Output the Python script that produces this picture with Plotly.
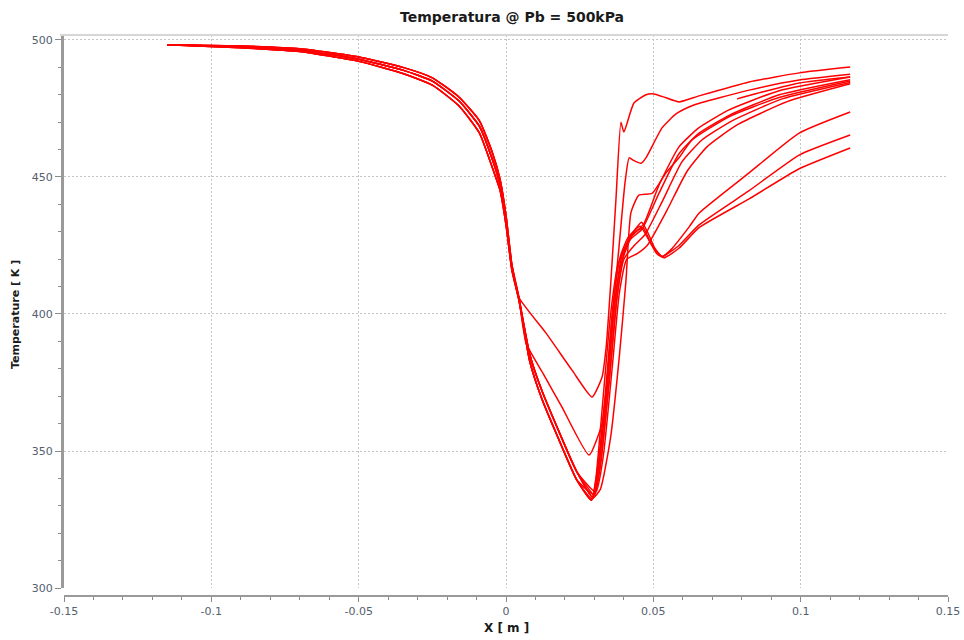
import plotly.graph_objects as go

# ---- shared upstream profile (x in m, T in K) ----
UP_X = [-0.115, -0.09, -0.07, -0.05, -0.035, -0.025, -0.016, -0.009, -0.0045, -0.002, 0.0, 0.002, 0.0044]
UP_T_HI = [498.3, 497.8, 496.8, 493.8, 490.0, 486.2, 479.2, 470.5, 458.5, 449.0, 436.0, 418.0, 406.0]
UP_T_MID = [498.3, 497.5, 496.3, 493.0, 489.0, 485.0, 477.8, 468.5, 456.0, 447.0, 434.0, 417.0, 405.5]
UP_T_LO = [498.3, 497.2, 495.8, 492.2, 487.8, 483.5, 476.0, 466.0, 453.0, 445.0, 432.5, 416.0, 405.0]

# approach to the cold core shared by the main bundle
PRE_X = [0.0080, 0.0120, 0.0180, 0.0240]
PRE_T_A = [385.5, 372.5, 357.0, 342.5]
PRE_T_B = [383.0, 369.5, 354.0, 339.5]

# branch with the shallowest minimum
A_X = [0.0136, 0.0224, 0.0292, 0.0326, 0.0340, 0.0356, 0.0373, 0.0390, 0.0400, 0.0434, 0.0475,
       0.0502, 0.0543, 0.0587, 0.0655, 0.0825, 0.0995, 0.1168]
A_T = [393.0, 379.5, 369.7, 377.0, 388.0, 412.0, 441.6, 470.0, 466.4, 477.0, 480.0,
       480.3, 478.9, 477.4, 479.6, 484.7, 488.0, 490.1]

# branch with the intermediate minimum
B_X = [0.0068, 0.0129, 0.0190, 0.0282, 0.0326, 0.0340, 0.0360, 0.0384, 0.0404, 0.0418, 0.0434,
       0.0458, 0.0475, 0.0530, 0.0577, 0.0631, 0.0825, 0.0995, 0.1168]
B_T = [389.4, 377.7, 366.0, 348.5, 360.0, 372.0, 398.0, 425.0, 448.0, 457.0, 456.0,
       455.0, 457.0, 468.0, 473.0, 476.0, 481.7, 485.4, 487.5]

# main bundle, recovering along the upper family
S_X = [0.0292, 0.0320, 0.0355, 0.0385, 0.0407, 0.0424, 0.0451, 0.0496, 0.0543, 0.0587, 0.0631, 0.0757, 0.0927, 0.1168]
S_T = [332.5, 336.0, 355.0, 385.0, 412.0, 437.0, 443.4, 444.0, 451.5, 457.0, 463.5, 472.0, 479.0, 485.0]

C1_X = [0.0295, 0.0310, 0.0340, 0.0365, 0.0390, 0.0425, 0.0468, 0.0519, 0.0587, 0.0655, 0.0757, 0.0927, 0.1168]
C1_T = [333.0, 340.0, 370.0, 400.0, 418.0, 428.0, 433.0, 447.0, 461.0, 468.0, 474.5, 481.5, 486.5]
C2_X = [0.0290, 0.0305, 0.0330, 0.0355, 0.0380, 0.0420, 0.0462, 0.0519, 0.0587, 0.0655, 0.0757, 0.0927, 0.1168]
C2_T = [332.0, 340.0, 370.0, 400.0, 418.0, 427.0, 431.0, 444.0, 458.5, 466.0, 472.5, 480.0, 485.5]
C3_X = [0.0300, 0.0320, 0.0350, 0.0375, 0.0400, 0.0435, 0.0472, 0.0530, 0.0597, 0.0665, 0.0767, 0.0937, 0.1168]
C3_T = [334.0, 345.0, 375.0, 405.0, 420.0, 425.0, 429.0, 441.0, 455.5, 463.5, 470.5, 478.5, 484.5]
C4_X = [0.0305, 0.0330, 0.0360, 0.0385, 0.0410, 0.0445, 0.0479, 0.0547, 0.0614, 0.0682, 0.0784, 0.0954, 0.1168]
C4_T = [335.0, 348.0, 380.0, 408.0, 420.0, 422.0, 425.0, 438.0, 452.0, 461.0, 469.0, 477.5, 484.0]

# main bundle, recovering along the lower family (with the dip near x = 0.05)
D1_X = [0.0295, 0.0315, 0.0345, 0.0370, 0.0395, 0.0420, 0.0460, 0.0480, 0.0505, 0.0530, 0.0560,
        0.0621, 0.0655, 0.0825, 0.0995, 0.1168]
D1_T = [333.0, 345.0, 375.0, 405.0, 422.0, 428.0, 433.5, 430.0, 424.0, 421.0, 423.5,
        431.7, 436.8, 451.5, 466.0, 473.7]
D2_X = [0.0290, 0.0310, 0.0338, 0.0362, 0.0388, 0.0415, 0.0455, 0.0485, 0.0509, 0.0530, 0.0587,
        0.0655, 0.0825, 0.0995, 0.1168]
D2_T = [332.0, 343.0, 372.0, 402.0, 421.0, 428.0, 432.0, 427.0, 423.0, 421.0, 425.0,
        432.5, 445.0, 458.0, 465.3]
D3_X = [0.0300, 0.0322, 0.0352, 0.0378, 0.0402, 0.0428, 0.0465, 0.0490, 0.0512, 0.0536, 0.0587,
        0.0655, 0.0825, 0.0995, 0.1168]
D3_T = [334.0, 346.0, 378.0, 407.0, 423.0, 429.0, 431.5, 426.0, 422.0, 420.5, 424.0,
        431.5, 442.0, 453.0, 460.6]

# short downstream segment
E_X = [0.0784, 0.0870, 0.0995, 0.1168]
E_T = [478.5, 481.0, 484.3, 486.5]

X_TICKS = [-0.15, -0.1, -0.05, 0.0, 0.05, 0.1, 0.15]
X_TICK_TEXT = ["-0.15", "-0.1", "-0.05", "0", "0.05", "0.1", "0.15"]
Y_TICKS = [300, 350, 400, 450, 500]

LINE_COLOR = "#ff0000"
TICK_FONT = dict(family="DejaVu Sans", size=11, color="#55606e")
GRID = dict(showgrid=True, gridcolor="#c4c4c4", griddash="2px,2px", gridwidth=1)

curves = [
    (UP_X + A_X, UP_T_HI + A_T),
    (UP_X + B_X, UP_T_MID + B_T),
    (UP_X + PRE_X + S_X, UP_T_LO + PRE_T_B + S_T),
    (UP_X + PRE_X + C1_X, UP_T_MID + PRE_T_A + C1_T),
    (UP_X + PRE_X + C2_X, UP_T_HI + PRE_T_B + C2_T),
    (UP_X + PRE_X + C3_X, UP_T_LO + PRE_T_A + C3_T),
    (UP_X + PRE_X + C4_X, UP_T_MID + PRE_T_A + C4_T),
    (UP_X + PRE_X + D1_X, UP_T_HI + PRE_T_A + D1_T),
    (UP_X + PRE_X + D2_X, UP_T_LO + PRE_T_B + D2_T),
    (UP_X + PRE_X + D3_X, UP_T_MID + PRE_T_B + D3_T),
    (E_X, E_T),
]

fig = go.Figure()
for xs, ts in curves:
    fig.add_trace(go.Scatter(
        x=xs, y=ts, mode="lines",
        line=dict(color=LINE_COLOR, width=1.5, shape="spline", smoothing=0.5),
        showlegend=False, hoverinfo="skip",
    ))

fig.update_layout(
    width=964, height=640, autosize=False,
    margin=dict(l=60, r=16, t=35, b=44, autoexpand=False),
    paper_bgcolor="white", plot_bgcolor="white",
    title=dict(text="<b>Temperatura @ Pb = 500kPa</b>", x=512 / 964, xanchor="center",
               y=1 - 17 / 640, yanchor="middle",
               font=dict(family="DejaVu Sans", size=14, color="#1a1a1a")),
    xaxis=dict(
        domain=[4 / 888, 1], range=[-0.15, 0.15], anchor="free", position=0, automargin=False,
        tickvals=X_TICKS, ticktext=X_TICK_TEXT, tickfont=TICK_FONT, **GRID,
        zeroline=False, showline=True, linecolor="#9a9a9a", linewidth=1.5,
        ticks="outside", ticklen=5, tickcolor="#8a8a8a", tickwidth=1,
        minor=dict(dtick=0.01, tick0=-0.15, ticks="outside", ticklen=3,
                   tickcolor="#8a8a8a", showgrid=False),
    ),
    yaxis=dict(
        domain=[8 / 561, 1], range=[300, 501.82], automargin=False,
        tickvals=Y_TICKS, tickfont=TICK_FONT, **GRID,
        zeroline=False, showline=True, linecolor="#9a9a9a", linewidth=3,
        ticks="outside", ticklen=6, tickcolor="#8a8a8a", tickwidth=1,
        minor=dict(dtick=10, tick0=300, ticks="outside", ticklen=3,
                   tickcolor="#8a8a8a", showgrid=False),
    ),
    shapes=[dict(type="line", xref="paper", yref="paper", x0=0, x1=1, y0=1, y1=1,
                 line=dict(color="#d6d6d6", width=2))],
    annotations=[
        dict(text="<b>X [ m ]</b>", xref="paper", yref="paper",
             x=(506 - 60) / 888, y=(596 - 628) / 561, xanchor="center", yanchor="middle",
             showarrow=False, font=dict(family="DejaVu Sans", size=12, color="#1a1a1a")),
        dict(text="<b>Temperature [ K ]</b>", xref="paper", yref="paper", textangle=-90,
             x=(15 - 60) / 888, y=(596 - 315) / 561, xanchor="center", yanchor="middle",
             showarrow=False, font=dict(family="DejaVu Sans", size=11, color="#1a1a1a")),
    ],
)

fig.write_html("out.html")
